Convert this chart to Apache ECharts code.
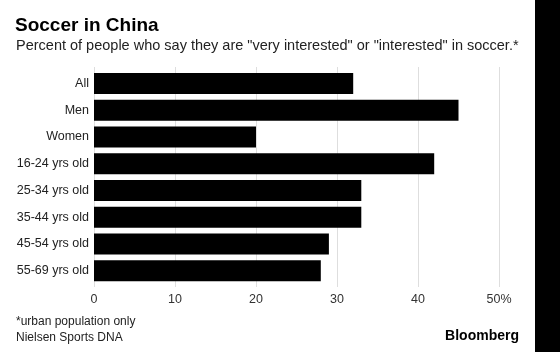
<!DOCTYPE html>
<html><head><meta charset="utf-8">
<script src="https://cdn.jsdelivr.net/npm/echarts@6/dist/echarts.min.js"></script>
<style>html,body{margin:0;padding:0;background:#fff}#c{width:560px;height:352px}</style>
</head><body><div id="c"></div>
<script>
const categories = ["All","Men","Women","16-24 yrs old","25-34 yrs old","35-44 yrs old","45-54 yrs old","55-69 yrs old"];
const values = [32,45,20,42,33,33,29,28];
const tickLabels = {0:"0",10:"10",20:"20",30:"30",40:"40",50:"50%"};

const FONT = "Liberation Sans, Arial, sans-serif";
const chart = echarts.init(document.getElementById('c'));
chart.setOption({
  animation:false,
  backgroundColor:'#fff',
  title:[
    {text:"Soccer in China",left:15,top:16,padding:0,textStyle:{fontFamily:FONT,fontSize:19,fontWeight:'bold',color:'#000'}},
    {text:'Percent of people who say they are "very interested" or "interested" in soccer.*',left:16,top:38,padding:0,textStyle:{fontFamily:FONT,fontSize:14.5,fontWeight:'normal',color:'#222'}}
  ],
  grid:{left:94,right:61,top:70,bottom:68,containLabel:false},
  xAxis:[{
    type:'value',min:0,max:50,interval:10,position:'bottom',
    axisLine:{show:false},
    axisTick:{show:true,length:3,inside:false,lineStyle:{color:'#dedede'}},
    splitLine:{show:true,lineStyle:{color:'#dedede',width:1}},
    axisLabel:{margin:9,fontFamily:FONT,fontSize:12.5,color:'#333',formatter:v=>tickLabels[v]}
  },{
    type:'value',min:0,max:50,interval:10,position:'top',
    axisLine:{show:false},
    axisTick:{show:true,length:3,lineStyle:{color:'#dedede'}},
    splitLine:{show:false},axisLabel:{show:false}
  }],
  yAxis:{
    type:'category',data:categories,inverse:true,
    axisLine:{show:false},axisTick:{show:false},
    axisLabel:{margin:5,fontFamily:FONT,fontSize:12.5,color:'#222'}
  },
  series:[{type:'bar',data:values,barWidth:21,itemStyle:{color:'#000'},xAxisIndex:0}],
  graphic:[
    {type:'text',left:16,top:316,style:{text:"*urban population only",font:"12px "+FONT,fill:'#222'}},
    {type:'text',left:16,top:332,style:{text:"Nielsen Sports DNA",font:"12px "+FONT,fill:'#222'}},
    {type:'text',right:41,top:329,style:{text:"Bloomberg",font:"bold 14px "+FONT,fill:'#000'}},
    {type:'rect',shape:{x:535,y:0,width:25,height:352},style:{fill:'#000'}}
  ]
});
</script></body></html>
